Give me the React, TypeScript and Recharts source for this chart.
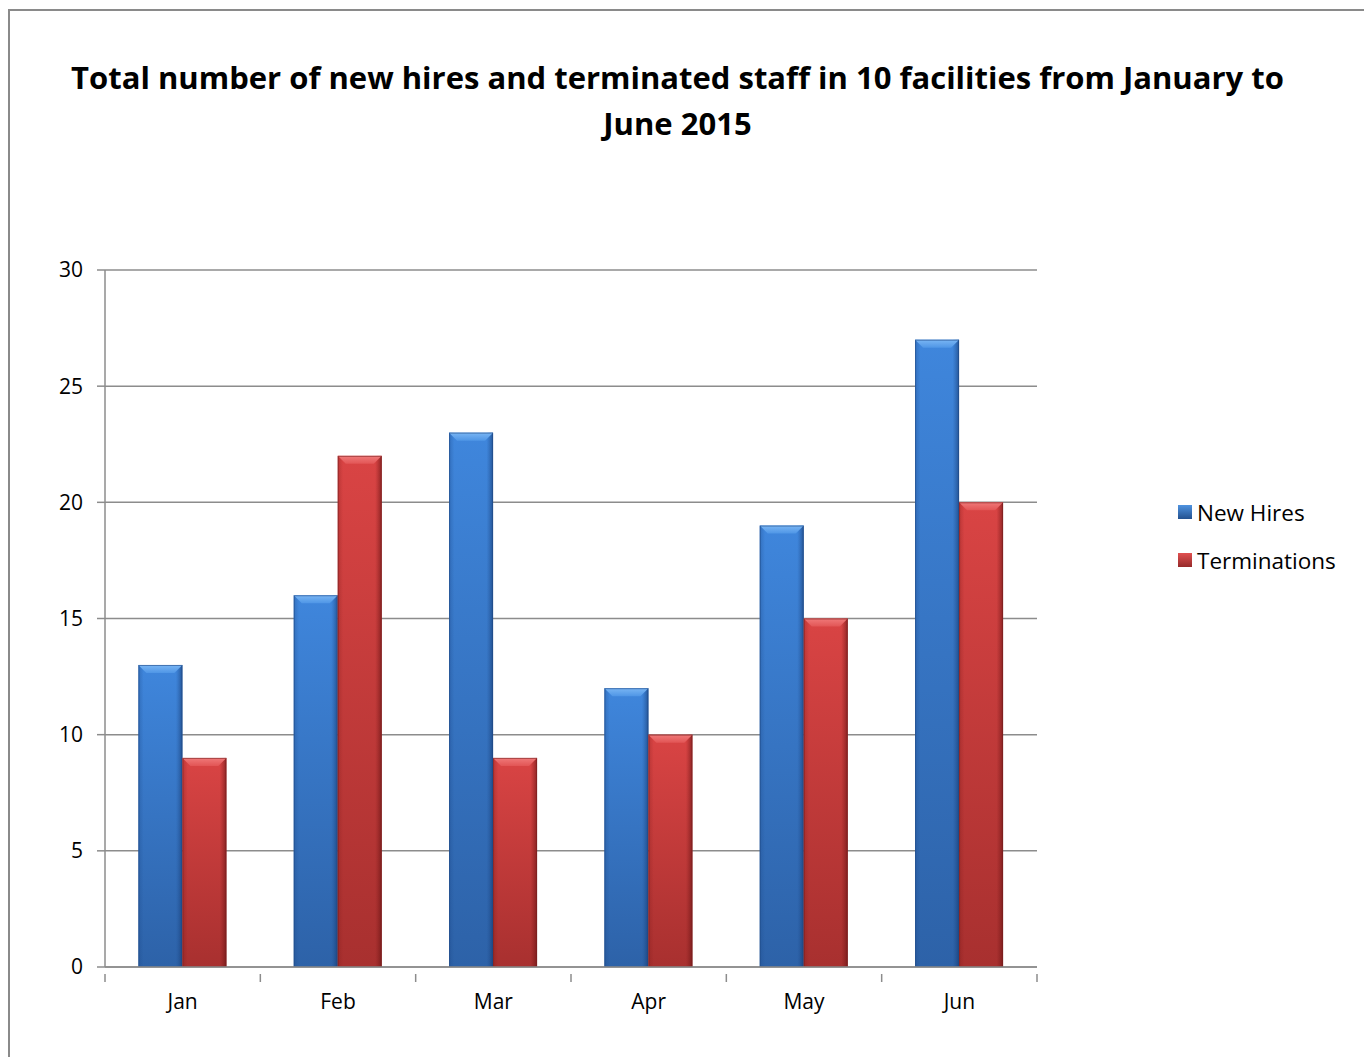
import React from 'react';
import { BarChart, Bar, XAxis, YAxis, CartesianGrid } from 'recharts';

const months = ['Jan', 'Feb', 'Mar', 'Apr', 'May', 'Jun'];
const newHires = [13, 16, 23, 12, 19, 27];
const terminations = [9, 22, 9, 10, 15, 20];
const yTicks = [0, 5, 10, 15, 20, 25, 30];

const data = months.map((m, i) => ({ month: m, hires: newHires[i], terms: terminations[i] }));

const FONT = "'Open Sans', 'Noto Sans', sans-serif";
const AXIS = '#8c8c8c';

// bevelled bar, a rough take on the old Excel look
const BevelBar = (props: any) => {
  const { x, y, width, height, kind } = props;
  if (!height || height <= 0) return null;
  const b = Math.min(8, height / 2);
  const id = kind;
  return (
    <g>
      <rect x={x} y={y} width={width} height={height} fill={`url(#body-${id})`} />
      <rect x={x} y={y} width={width} height={height} fill={`url(#side-${id})`} />
      <polygon
        points={`${x},${y} ${x + width},${y} ${x + width - b},${y + b} ${x + b},${y + b}`}
        fill={`url(#top-${id})`}
      />
      <rect x={x + 0.5} y={y + 0.5} width={width - 1} height={height - 1} fill="none"
        stroke={kind === 'blue' ? '#1f4a86' : '#7a1f1f'} strokeOpacity={0.6} />
    </g>
  );
};

// category label plus tick marks on the category edges (Excel style)
const MonthTick = (props: any) => {
  const { x, y, payload, index, width } = props;
  const band = (width || 932) / months.length;
  const left = x - band / 2;
  return (
    <g>
      <line x1={left} y1={y - 1} x2={left} y2={y + 7} stroke={AXIS} strokeWidth={1.5} />
      {index === months.length - 1 && (
        <line x1={x + band / 2} y1={y - 1} x2={x + band / 2} y2={y + 7} stroke={AXIS} strokeWidth={1.5} />
      )}
      <text x={x} y={y + 34} textAnchor="middle" fontSize={21} fontFamily={FONT} fill="#000">
        {payload.value}
      </text>
    </g>
  );
};

const legendItems = [
  { label: 'New Hires', c1: '#4f93e0', c2: '#23518f' },
  { label: 'Terminations', c1: '#e05050', c2: '#962a2a' },
];

export default function App() {
  return (
    <div style={{ position: 'relative', width: 1362, height: 1048, overflow: 'hidden', marginTop: 1 }}>
      <style>{'html, body { overflow: hidden; }'}</style>
      <div style={{
        position: 'absolute', left: 0, top: 0, width: 1362, height: 1070,
        border: '2px solid #8a8a8a', boxSizing: 'border-box', background: '#fff',
      }}>
        <div style={{
          position: 'absolute', left: -11, top: 43, width: 1357, textAlign: 'center',
          fontFamily: FONT, fontWeight: 700, fontSize: 31, lineHeight: '46px', color: '#000',
        }}>
          Total number of new hires and terminated staff in 10 facilities from January to
          <br />June 2015
        </div>
        <div style={{ position: 'absolute', left: 1168, top: 477, fontFamily: FONT, fontSize: 22.5, color: '#000' }}>
          {legendItems.map((it) => (
            <div key={it.label} style={{ display: 'flex', alignItems: 'center', height: 48 }}>
              <span style={{
                display: 'inline-block', width: 14, height: 14, marginRight: 5,
                background: `linear-gradient(${it.c1}, ${it.c2})`,
              }} />
              {it.label}
            </div>
          ))}
        </div>
        <BarChart
          width={1356}
          height={1050}
          data={data}
          margin={{ top: 259, right: 329, left: 0, bottom: 54 }}
          barCategoryGap="21.5%"
          barGap={0}
        >
          <defs>
            <linearGradient id="body-blue" x1="0" y1="0" x2="0" y2="1">
              <stop offset="0%" stopColor="#3f86dc" />
              <stop offset="100%" stopColor="#2d62a8" />
            </linearGradient>
            <linearGradient id="side-blue" x1="0" y1="0" x2="1" y2="0">
              <stop offset="0%" stopColor="#1d4a8a" stopOpacity={0.35} />
              <stop offset="12%" stopColor="#1d4a8a" stopOpacity={0} />
              <stop offset="85%" stopColor="#1d4a8a" stopOpacity={0} />
              <stop offset="100%" stopColor="#102c5c" stopOpacity={0.55} />
            </linearGradient>
            <linearGradient id="top-blue" x1="0" y1="0" x2="0" y2="1">
              <stop offset="0%" stopColor="#7ab6f4" />
              <stop offset="100%" stopColor="#4f96e6" />
            </linearGradient>
            <linearGradient id="body-red" x1="0" y1="0" x2="0" y2="1">
              <stop offset="0%" stopColor="#d94444" />
              <stop offset="100%" stopColor="#a8302f" />
            </linearGradient>
            <linearGradient id="side-red" x1="0" y1="0" x2="1" y2="0">
              <stop offset="0%" stopColor="#7a1818" stopOpacity={0.3} />
              <stop offset="12%" stopColor="#7a1818" stopOpacity={0} />
              <stop offset="85%" stopColor="#7a1818" stopOpacity={0} />
              <stop offset="100%" stopColor="#5a0f0f" stopOpacity={0.6} />
            </linearGradient>
            <linearGradient id="top-red" x1="0" y1="0" x2="0" y2="1">
              <stop offset="0%" stopColor="#f07a7a" />
              <stop offset="100%" stopColor="#e25555" />
            </linearGradient>
          </defs>
          <CartesianGrid vertical={false} stroke={AXIS} strokeWidth={1.5} />
          <XAxis
            dataKey="month"
            height={40}
            stroke={AXIS}
            strokeWidth={1.5}
            tickLine={false}
            interval={0}
            tick={<MonthTick />}
            ticks={months}
          />
          <YAxis
            width={95}
            domain={[0, 30]}
            ticks={yTicks}
            stroke={AXIS}
            strokeWidth={1.5}
            tickSize={8}
            tickMargin={14}
            tick={{ fontSize: 21, fill: '#000', fontFamily: FONT }}
          />
          <Bar dataKey="hires" name="New Hires" isAnimationActive={false}
            shape={(p: any) => <BevelBar {...p} kind="blue" />} />
          <Bar dataKey="terms" name="Terminations" isAnimationActive={false}
            shape={(p: any) => <BevelBar {...p} kind="red" />} />
        </BarChart>
      </div>
    </div>
  );
}
